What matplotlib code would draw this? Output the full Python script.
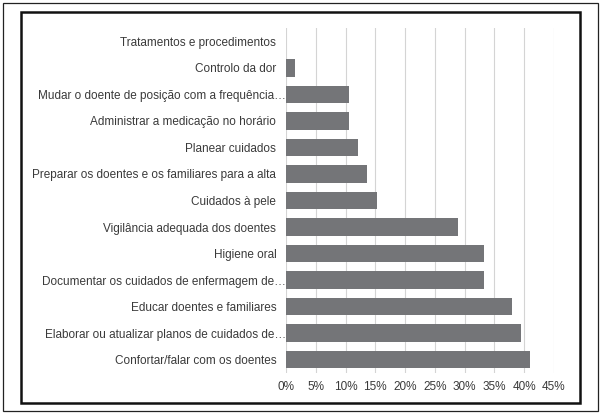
import matplotlib
matplotlib.use("Agg")
import matplotlib.pyplot as plt
from matplotlib.patches import Rectangle
from matplotlib.transforms import ScaledTranslation

categories = [
    "Tratamentos e procedimentos",
    "Controlo da dor",
    "Mudar o doente de posição com a frequência…",
    "Administrar a medicação no horário",
    "Planear cuidados",
    "Preparar os doentes e os familiares para a alta",
    "Cuidados à pele",
    "Vigilância adequada dos doentes",
    "Higiene oral",
    "Documentar os cuidados de enfermagem de…",
    "Educar doentes e familiares",
    "Elaborar ou atualizar planos de cuidados de…",
    "Confortar/falar com os doentes",
]
values = [0.0, 1.5, 10.6, 10.6, 12.1, 13.6, 15.2, 28.8, 33.3, 33.3, 37.9, 39.4, 40.9]
xticks = [0, 5, 10, 15, 20, 25, 30, 35, 40, 45]
xticklabels = [f"{t}%" for t in xticks]

plt.rcParams['font.family'] = ['Liberation Sans', 'DejaVu Sans']

W, H = 602, 415
fig = plt.figure(figsize=(W / 100, H / 100), dpi=100)
fig.patch.set_facecolor("white")

# frames
fig.patches.append(Rectangle((3 / W, 1 - 411 / H), (598 - 3) / W, (411 - 3) / H,
                             transform=fig.transFigure, fill=False, edgecolor="#222222", linewidth=0.9))
fig.patches.append(Rectangle((21 / W, 1 - 403 / H), (580 - 21) / W, (403 - 12) / H,
                             transform=fig.transFigure, fill=False, edgecolor="#111111", linewidth=1.8))

ax = fig.add_axes([286 / W, 1 - 373 / H, (554 - 286) / W, (373 - 28) / H])
y = list(range(len(categories)))
ax.barh(y, values, height=0.66, color="#747578", zorder=3)
ax.set_yticks(y)
ax.set_yticklabels(categories, fontsize=8.5, color="#3a3a3a")
ax.set_ylim(len(categories) - 0.5, -0.5)
ax.set_xlim(0, 45)
ax.set_xticks(xticks)
ax.set_xticklabels(xticklabels, fontsize=8.5, color="#3a3a3a")
ax.tick_params(axis="both", length=0)
ax.tick_params(axis="y", pad=7)
ax.tick_params(axis="x", pad=6)
ax.grid(axis="x", color="#d4d4d4", linewidth=0.8, zorder=0)
for s in ax.spines.values():
    s.set_visible(False)
ax.set_facecolor("none")

shift = ScaledTranslation(10 / 100, 0, fig.dpi_scale_trans)
for lbl in ax.get_yticklabels():
    if lbl.get_text().endswith("…"):
        lbl.set_transform(lbl.get_transform() + shift)

fig.savefig("out.png", dpi=100)
